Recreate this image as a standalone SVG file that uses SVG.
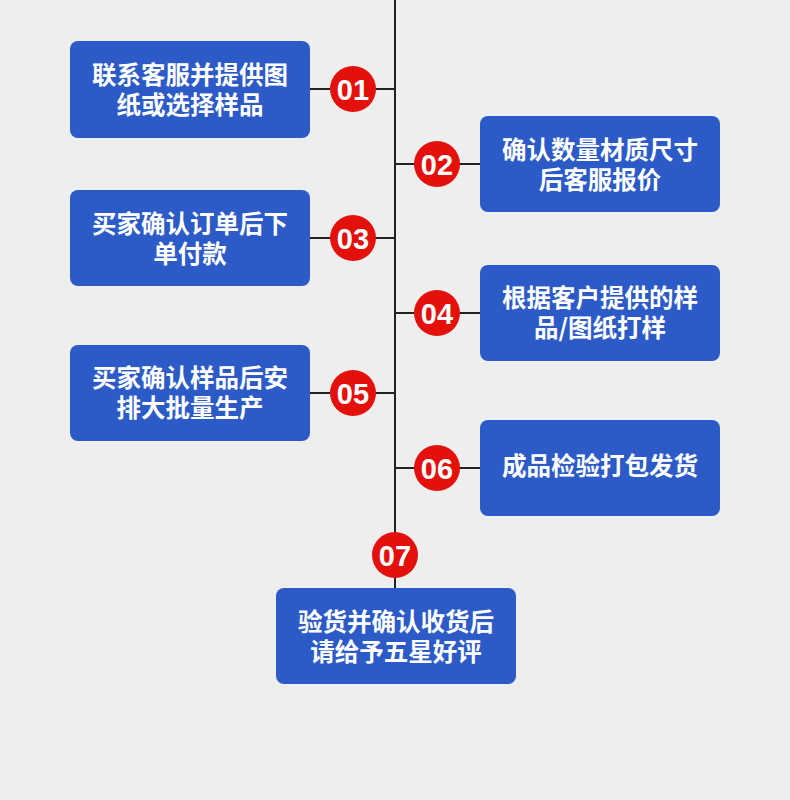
<svg xmlns="http://www.w3.org/2000/svg" width="790" height="800" viewBox="0 0 790 800">
<style>
.box{fill:#2c5bc7}
.t{fill:#fff;font-family:"Noto Sans CJK SC","Noto Sans",sans-serif;font-size:24.5px;font-weight:bold;text-anchor:middle}
.c{fill:#e3100c}
.n{fill:#fff;font-family:"Liberation Sans","Noto Sans",sans-serif;font-size:29px;font-weight:bold;text-anchor:middle}
.ln{stroke:#222;stroke-width:2;fill:none}
</style>
<rect width="790" height="800" fill="#eeeeee"/>
<g id="connectors">
<line class="ln" x1="395" y1="0" x2="395" y2="588"/>
<line class="ln" x1="310" y1="89" x2="395" y2="89"/>
<line class="ln" x1="395" y1="164" x2="480" y2="164"/>
<line class="ln" x1="310" y1="238" x2="395" y2="238"/>
<line class="ln" x1="395" y1="313" x2="480" y2="313"/>
<line class="ln" x1="310" y1="393" x2="395" y2="393"/>
<line class="ln" x1="395" y1="468" x2="480" y2="468"/>
</g>
<g id="step1">
<rect class="box" x="70" y="41" width="240" height="97" rx="8"/>
<text class="t"><tspan x="190" y="84">联系客服并提供图</tspan><tspan x="190" y="114">纸或选择样品</tspan></text>
<circle class="c" cx="353" cy="89" r="23"/>
<text class="n" x="353" y="99.5">01</text>
</g>
<g id="step2">
<rect class="box" x="480" y="116" width="240" height="96" rx="8"/>
<text class="t"><tspan x="600" y="159">确认数量材质尺寸</tspan><tspan x="600" y="189">后客服报价</tspan></text>
<circle class="c" cx="437" cy="164" r="23"/>
<text class="n" x="437" y="174.5">02</text>
</g>
<g id="step3">
<rect class="box" x="70" y="190" width="240" height="96" rx="8"/>
<text class="t"><tspan x="190" y="233">买家确认订单后下</tspan><tspan x="190" y="263">单付款</tspan></text>
<circle class="c" cx="353" cy="238" r="23"/>
<text class="n" x="353" y="248.5">03</text>
</g>
<g id="step4">
<rect class="box" x="480" y="265" width="240" height="96" rx="8"/>
<text class="t"><tspan x="600" y="307">根据客户提供的样</tspan><tspan x="600" y="337">品/图纸打样</tspan></text>
<circle class="c" cx="437" cy="313" r="23"/>
<text class="n" x="437" y="323.5">04</text>
</g>
<g id="step5">
<rect class="box" x="70" y="345" width="240" height="96" rx="8"/>
<text class="t"><tspan x="190" y="387">买家确认样品后安</tspan><tspan x="190" y="417">排大批量生产</tspan></text>
<circle class="c" cx="353" cy="393" r="23"/>
<text class="n" x="353" y="403.5">05</text>
</g>
<g id="step6">
<rect class="box" x="480" y="420" width="240" height="96" rx="8"/>
<text class="t" x="600" y="475">成品检验打包发货</text>
<circle class="c" cx="437" cy="468" r="23"/>
<text class="n" x="437" y="478.5">06</text>
</g>
<g id="step7">
<circle class="c" cx="395" cy="555" r="23"/>
<text class="n" x="395" y="565.5">07</text>
<rect class="box" x="276" y="588" width="240" height="96" rx="8"/>
<text class="t"><tspan x="396" y="631">验货并确认收货后</tspan><tspan x="396" y="661">请给予五星好评</tspan></text>
</g>
</svg>
